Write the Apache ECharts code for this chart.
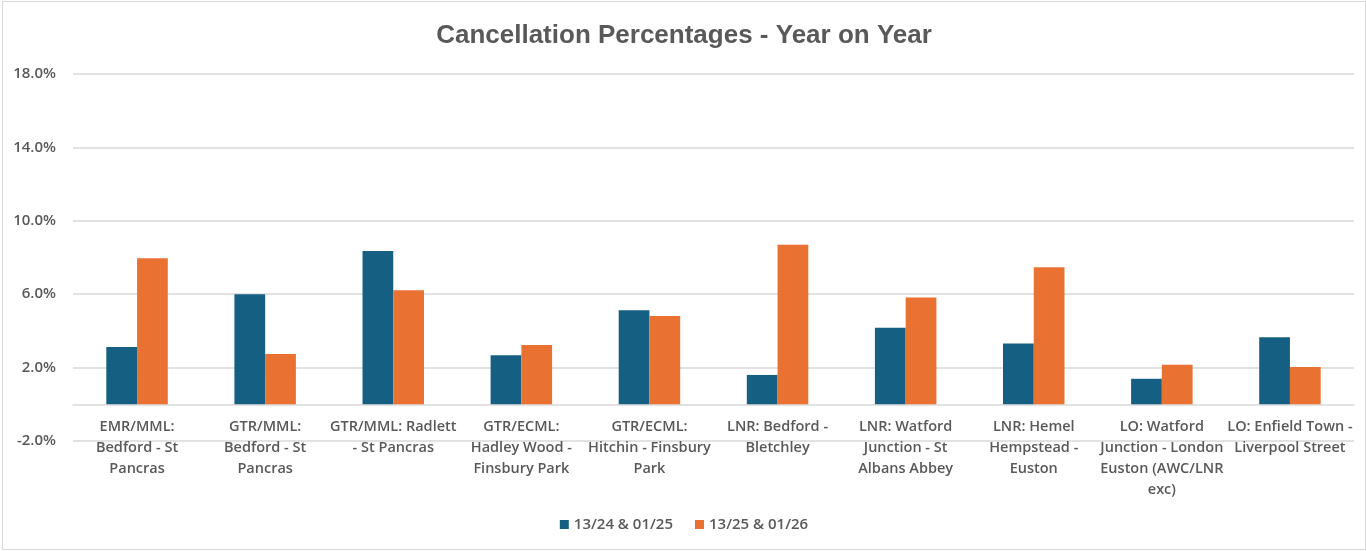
<!DOCTYPE html>
<html>
<head>
<meta charset="utf-8">
<script src="https://cdn.jsdelivr.net/npm/echarts@6/dist/echarts.min.js"></script>
<style>
  html, body { margin: 0; padding: 0; background: #fff; }
  #main {
    width: 1362px;
    height: 547px;
    margin: 1px 0 0 2px;
    border: 1px solid #d9d9d9;
  }
</style>
</head>
<body>
<div id="main"></div>
<script>
// route names, wrapped the way the original chart wraps them
var routes = [
  "EMR/MML:\nBedford - St\nPancras",
  "GTR/MML:\nBedford - St\nPancras",
  "GTR/MML: Radlett\n- St Pancras",
  "GTR/ECML:\nHadley Wood -\nFinsbury Park",
  "GTR/ECML:\nHitchin - Finsbury\nPark",
  "LNR: Bedford -\nBletchley",
  "LNR: Watford\nJunction - St\nAlbans Abbey",
  "LNR: Hemel\nHempstead -\nEuston",
  "LO: Watford\nJunction - London\nEuston (AWC/LNR\nexc)",
  "LO: Enfield Town -\nLiverpool Street"
];
var seriesNames = ["13/24 & 01/25", "13/25 & 01/26"];
var prevYear = [3.12, 6.0, 8.36, 2.67, 5.12, 1.6, 4.17, 3.32, 1.39, 3.65];
var thisYear = [7.96, 2.74, 6.22, 3.23, 4.81, 8.69, 5.82, 7.47, 2.16, 2.03];
var yMin = -2, yMax = 18, yStep = 4;

var textGrey = '#595959';
var labelFont = 'Open Sans';

var chart = echarts.init(document.getElementById('main'));

var option = {
  animation: false,
  title: {
    text: 'Cancellation Percentages - Year on Year',
    left: 'center',
    top: 16,
    textStyle: {
      fontFamily: 'Liberation Sans',
      fontSize: 26,
      fontWeight: 'bold',
      color: textGrey
    }
  },
  legend: {
    data: seriesNames,
    bottom: 12,
    left: 'center',
    itemWidth: 9,
    itemHeight: 9,
    itemGap: 22,
    icon: 'rect',
    textStyle: {
      fontFamily: labelFont,
      fontSize: 15,
      fontWeight: 600,
      color: textGrey
    }
  },
  grid: {
    left: 70,
    right: 11,
    top: 72,
    bottom: 108
  },
  xAxis: {
    type: 'category',
    data: routes,
    axisLine: { show: true, onZero: true, lineStyle: { color: '#d9d9d9', width: 1.5 } },
    axisTick: { show: false },
    axisLabel: {
      interval: 0,
      margin: -25,
      lineHeight: 21,
      fontFamily: labelFont,
      fontSize: 14.5,
      fontWeight: 600,
      color: textGrey
    }
  },
  yAxis: {
    type: 'value',
    min: yMin,
    max: yMax,
    interval: yStep,
    axisLine: { show: false },
    axisTick: { show: false },
    splitLine: { lineStyle: { color: '#d9d9d9', width: 1.5 } },
    axisLabel: {
      margin: 17,
      formatter: function (v) { return v.toFixed(1) + '%'; },
      fontFamily: labelFont,
      fontSize: 15,
      fontWeight: 600,
      color: textGrey
    }
  },
  series: [
    {
      name: seriesNames[0],
      type: 'bar',
      data: prevYear,
      barGap: '0%',
      barCategoryGap: '52%',
      itemStyle: { color: '#156082' }
    },
    {
      name: seriesNames[1],
      type: 'bar',
      data: thisYear,
      barGap: '0%',
      barCategoryGap: '52%',
      itemStyle: { color: '#E97132' }
    }
  ]
};

chart.setOption(option);
</script>
</body>
</html>
